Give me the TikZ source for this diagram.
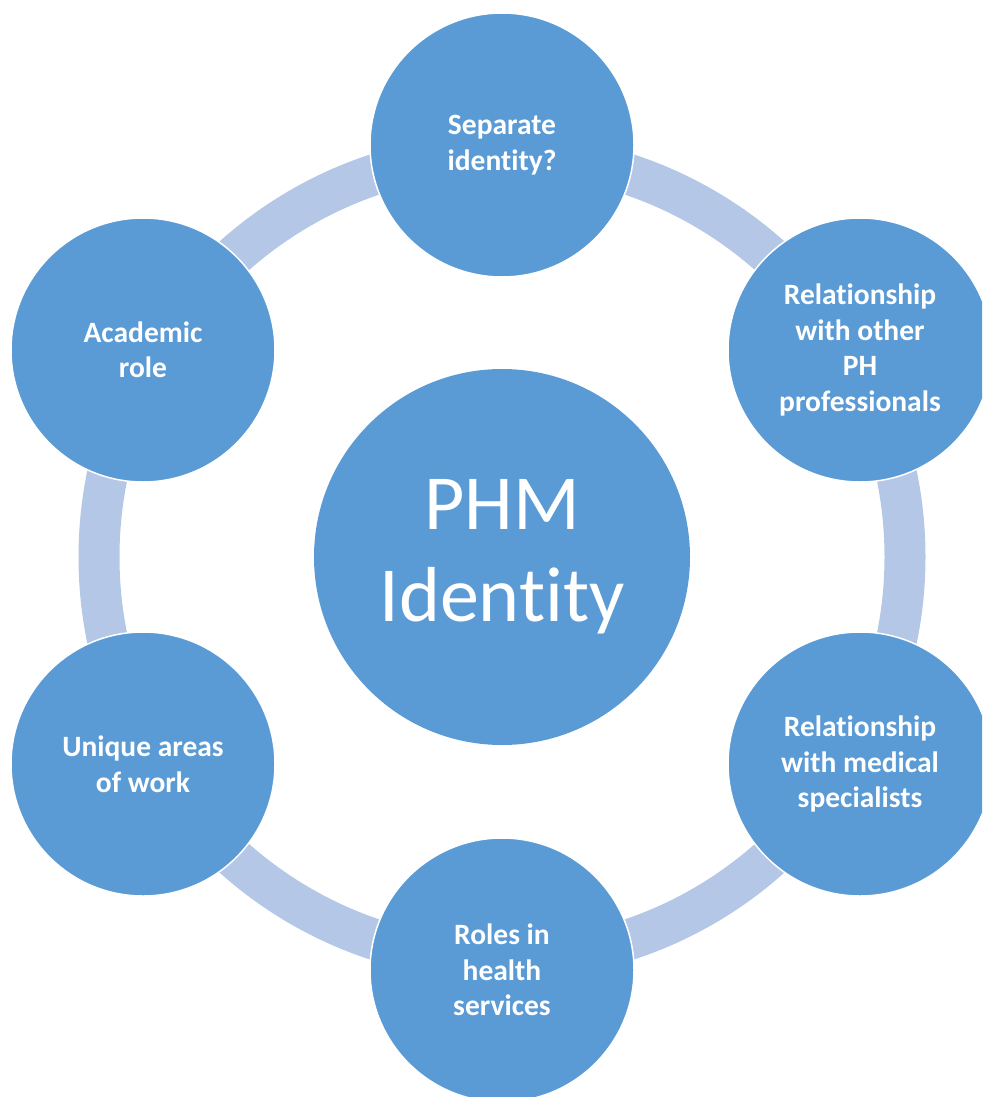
\documentclass[tikz,border=0pt]{standalone}
\usepackage{fontspec}
\setmainfont{Carlito}[Ligatures={NoCommon}]
\definecolor{circblue}{HTML}{5B9BD5}
\definecolor{ringblue}{HTML}{B4C7E7}
\tikzset{
  outer/.style={circle, fill=circblue, draw=white, line width=1.5pt, minimum size=264pt, inner sep=0pt,
    text=white, align=center, font=\fontsize{29.5}{35.5}\selectfont\bfseries},
  hub/.style={circle, fill=circblue, minimum size=376pt, inner sep=0pt,
    text=white, align=center, font=\fontsize{78}{92}\selectfont},
  ringline/.style={draw=ringblue, line width=41pt}
}
\begin{document}
\begin{tikzpicture}[x=1pt,y=-1pt]
\useasboundingbox (0,0) rectangle (982,1097);
\begin{scope}
\clip (0,0) rectangle (982,1097);
\coordinate (c) at (502,557);
\draw[ringline] (c) circle[radius=403pt];
\node[hub] (hub) at (c) {PHM\\Identity};
\node[outer] (top) at (502,145) {Separate\\identity?};
\node[outer] (ur) at (860,350) {Relationship\\with other\\PH\\professionals};
\node[outer] (lr) at (860,764) {Relationship\\with medical\\specialists};
\node[outer] (bot) at (502,970) {Roles in\\health\\services};
\node[outer] (ll) at (143,764) {Unique areas\\of work};
\node[outer] (ul) at (143,350) {Academic\\role};
\end{scope}
\end{tikzpicture}
\end{document}
